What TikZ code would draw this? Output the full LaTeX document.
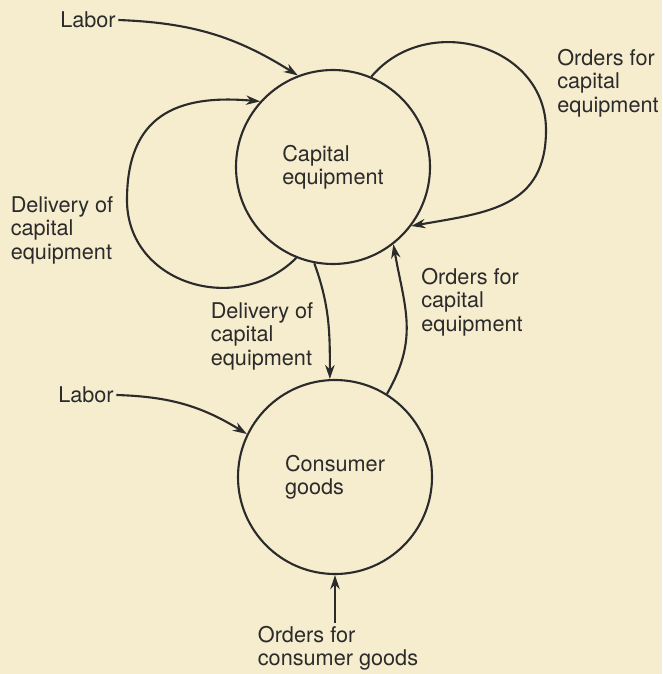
\documentclass[tikz,border=0pt]{standalone}
\usepackage{fontspec}
\setmainfont{TeX Gyre Heros}
\usetikzlibrary{arrows.meta,positioning}
\definecolor{paperbg}{RGB}{246,236,206}
\definecolor{inkgray}{HTML}{2B2B2B}
\newcommand{\flowfont}{\fontsize{18.5}{20}\selectfont}
\tikzset{
  sector/.style={circle,draw=inkgray,line width=1.8pt,minimum size=5.82cm,inner sep=0pt,
    align=left,font=\flowfont,text=inkgray},
  flowlabel/.style={align=left,font=\flowfont,text=inkgray,inner sep=2pt},
  flowarrow/.style={-{Stealth[length=12pt,width=8pt]},line width=1.8pt,draw=inkgray},
}

\begin{document}
\begin{tikzpicture}[x=0.03cm,y=0.03cm]
  \fill[paperbg] (0,0) rectangle (662,-674);
  \useasboundingbox (0,0) rectangle (662,-674);
  % sectors
  \node[sector] (cap) at (333,-167) {Capital\\equipment};
  \node[sector] (con) at (335,-477) {Consumer\\goods};
  % labels
  \node[flowlabel] (labcap) at (88,-20) {Labor};
  \node[flowlabel] (ordloop) at (608,-83) {Orders for\\capital\\equipment};
  \node[flowlabel] (delloop) at (62,-230) {Delivery of\\capital\\equipment};
  \node[flowlabel] (deldown) at (262,-336) {Delivery of\\capital\\equipment};
  \node[flowlabel] (ordup) at (472,-302) {Orders for\\capital\\equipment};
  \node[flowlabel] (labcon) at (86,-395) {Labor};
  \node[flowlabel] (ordcon) at (338,-648) {Orders for\\consumer goods};
  \coordinate (loopright) at (546,-130);
  \coordinate (loopleft) at (127,-200);
  % flows
  \draw[flowarrow] (labcap.east) to[bend left=15] (cap.111);
  \draw[flowarrow] (cap.67) to[out=50,in=90,looseness=1.2] (loopright)
    to[out=-90,in=10,looseness=1.2] (cap.-37);
  \draw[flowarrow] (cap.248) to[out=225,in=-90,looseness=1.2] (loopleft)
    to[out=90,in=175,looseness=1.3] (cap.138);
  \draw[flowarrow] (cap.259) to[out=-70,in=90] (con.93);
  \draw[flowarrow] (con.58) to[out=60,in=-80,looseness=1.1] (cap.-52);
  \draw[flowarrow] (labcon.east) to[bend left=15] (con.154);
  \draw[flowarrow] (con.south |- ordcon.north) -- (con.south);
\end{tikzpicture}
\end{document}
